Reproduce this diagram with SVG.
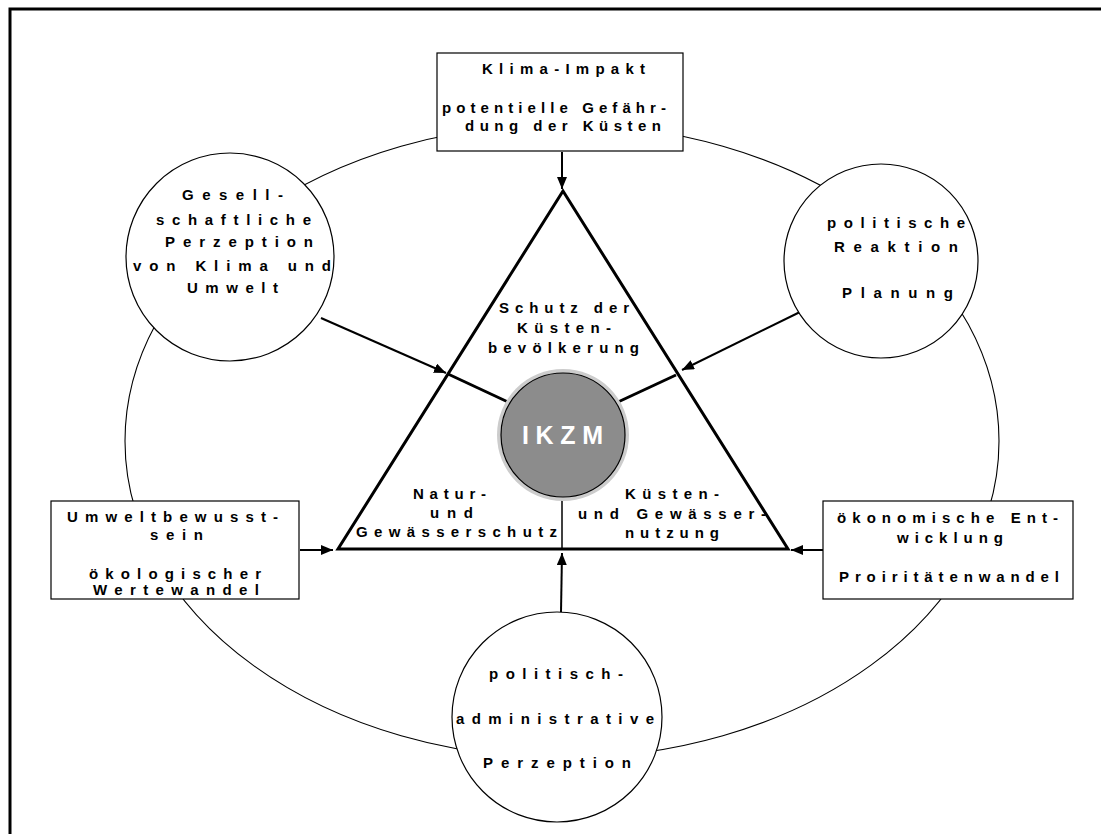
<svg xmlns="http://www.w3.org/2000/svg" width="1101" height="834" viewBox="0 0 1101 834">
<style>
.t{font-family:"Liberation Sans",Arial,sans-serif;font-size:15px;font-weight:bold;fill:#000}
.big{font-family:"Liberation Sans",Arial,sans-serif;font-size:25px;font-weight:bold;fill:#fff}
.node{fill:#fff;stroke:#000;stroke-width:1.2}
.thin{fill:none;stroke:#000;stroke-width:1.1}
.arr{fill:none;stroke:#000;stroke-width:2;marker-end:url(#ah)}
.thick{fill:none;stroke:#000;stroke-width:3}
</style>
<defs>
<marker id="ah" markerUnits="userSpaceOnUse" markerWidth="13" markerHeight="11" refX="12" refY="5" orient="auto">
<path d="M0,0 L12,5 L0,10 z" fill="#000"/>
</marker>
</defs>
<rect width="1101" height="834" fill="#fff"/>
<g id="frame">
<path d="M10,834 L10,9 L1101,9" fill="none" stroke="#000" stroke-width="3"/>
</g>
<g id="connectors">
<ellipse class="thin" cx="562" cy="441" rx="437" ry="317"/>
<line class="arr" x1="562" y1="152" x2="562" y2="189"/>
<line class="arr" x1="321" y1="318" x2="446" y2="373"/>
<line class="arr" x1="800" y1="312" x2="682" y2="370"/>
<line class="arr" x1="300" y1="550" x2="333" y2="550"/>
<line class="arr" x1="823" y1="550" x2="791" y2="550"/>
<line class="arr" x1="561" y1="612" x2="562" y2="553"/>
<line class="thick" x1="448" y1="374" x2="508" y2="402"/>
<line class="thick" x1="676" y1="375" x2="618" y2="402"/>
<line x1="562" y1="497" x2="562" y2="549" stroke="#000" stroke-width="1.5"/>
</g>
<g id="triangle">
<polygon points="563,191 338,549 788,549" fill="none" stroke="#000" stroke-width="3" stroke-linejoin="miter"/>
<text class="t" x="499" y="313" textLength="130" lengthAdjust="spacing">Schutz der</text>
<text class="t" x="517" y="333" textLength="94" lengthAdjust="spacing">Küsten-</text>
<text class="t" x="488" y="353" textLength="151" lengthAdjust="spacing">bevölkerung</text>
<text class="t" x="413" y="499" textLength="73" lengthAdjust="spacing">Natur-</text>
<text class="t" x="430" y="518" textLength="43" lengthAdjust="spacing">und</text>
<text class="t" x="356" y="537" textLength="201" lengthAdjust="spacing">Gewässerschutz</text>
<text class="t" x="625" y="499" textLength="94" lengthAdjust="spacing">Küsten-</text>
<text class="t" x="578" y="519" textLength="188" lengthAdjust="spacing">und Gewässer-</text>
<text class="t" x="625" y="538" textLength="94" lengthAdjust="spacing">nutzung</text>
</g>
<g id="ikzm">
<circle cx="563" cy="435" r="66" fill="#cccccc"/>
<circle cx="563" cy="435" r="62" fill="#8c8c8c" stroke="#000" stroke-width="1.2"/>
<text class="big" x="522" y="444" textLength="81" lengthAdjust="spacing">IKZM</text>
</g>
<g id="klima">
<rect class="node" x="437" y="53" width="246" height="98"/>
<text class="t" x="482" y="74" textLength="163" lengthAdjust="spacing">Klima-Impakt</text>
<text class="t" x="442" y="113" textLength="224" lengthAdjust="spacing">potentielle Gefähr-</text>
<text class="t" x="465" y="131" textLength="196" lengthAdjust="spacing">dung der Küsten</text>
</g>
<g id="gesell">
<circle class="node" cx="230" cy="257" r="104"/>
<text class="t" x="182" y="200" textLength="101" lengthAdjust="spacing">Gesell-</text>
<text class="t" x="156" y="225" textLength="155" lengthAdjust="spacing">schaftliche</text>
<text class="t" x="165" y="247" textLength="148" lengthAdjust="spacing">Perzeption</text>
<text class="t" x="133" y="271" textLength="198" lengthAdjust="spacing">von Klima und</text>
<text class="t" x="187" y="293" textLength="91" lengthAdjust="spacing">Umwelt</text>
</g>
<g id="reaktion">
<circle class="node" cx="881" cy="261" r="97"/>
<text class="t" x="827" y="228" textLength="138" lengthAdjust="spacing">politische</text>
<text class="t" x="834" y="252" textLength="124" lengthAdjust="spacing">Reaktion</text>
<text class="t" x="842" y="298" textLength="111" lengthAdjust="spacing">Planung</text>
</g>
<g id="umwelt">
<rect class="node" x="51" y="501" width="248" height="98"/>
<text class="t" x="67" y="522" textLength="211" lengthAdjust="spacing">Umweltbewusst-</text>
<text class="t" x="150" y="540" textLength="53" lengthAdjust="spacing">sein</text>
<text class="t" x="89" y="579" textLength="172" lengthAdjust="spacing">ökologischer</text>
<text class="t" x="93" y="595" textLength="166" lengthAdjust="spacing">Wertewandel</text>
</g>
<g id="oekonomie">
<rect class="node" x="823" y="501" width="250" height="98"/>
<text class="t" x="837" y="523" textLength="221" lengthAdjust="spacing">ökonomische Ent-</text>
<text class="t" x="897" y="543" textLength="106" lengthAdjust="spacing">wicklung</text>
<text class="t" x="839" y="582" textLength="220" lengthAdjust="spacing">Proiritätenwandel</text>
</g>
<g id="administrativ">
<circle class="node" cx="557" cy="717" r="105"/>
<text class="t" x="489" y="679" textLength="134" lengthAdjust="spacing">politisch-</text>
<text class="t" x="456" y="724" textLength="198" lengthAdjust="spacing">administrative</text>
<text class="t" x="483" y="768" textLength="148" lengthAdjust="spacing">Perzeption</text>
</g>
</svg>
